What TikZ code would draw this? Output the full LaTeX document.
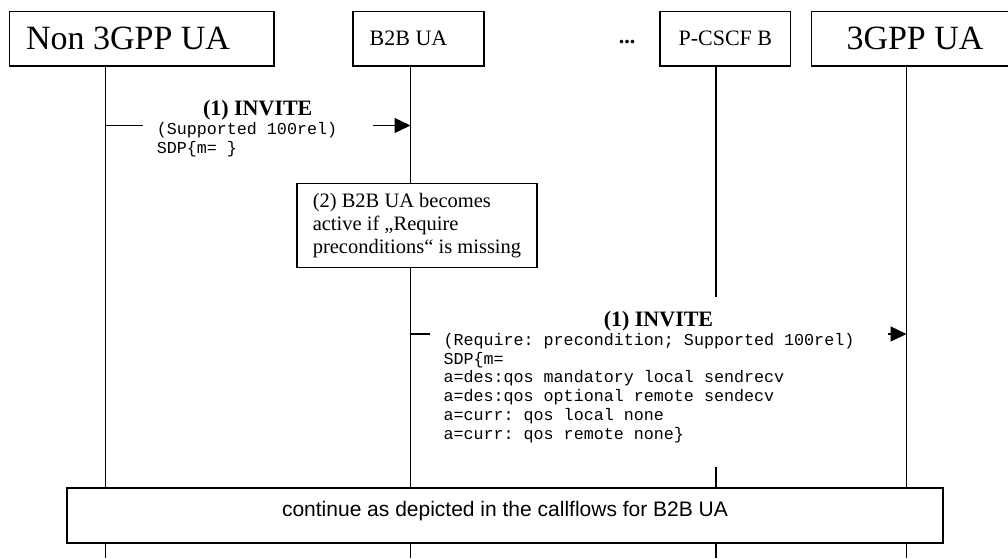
\documentclass[tikz,border=0pt]{standalone}
\usepackage{fontspec}
\setmainfont{Liberation Serif}
\setsansfont{Liberation Sans}
\setmonofont{Liberation Mono}
\usetikzlibrary{arrows.meta}

\begin{document}
\begin{tikzpicture}[x=1pt,y=-1pt,
  hdr/.style={draw,line width=1.5pt,minimum height=54.5pt,inner xsep=16.5pt,inner ysep=0pt},
  life/.style={line width=1.3pt},
  msg/.style={line width=1.3pt,-{Triangle[length=16pt,width=15pt]}},
  lbl/.style={fill=white,inner xsep=14pt,inner ysep=3pt,align=flush left,anchor=north,
    font=\ttfamily\fontsize{16.7}{18.7}\selectfont},
  box/.style={draw,line width=1.5pt,fill=white}]
\useasboundingbox (0,0) rectangle (1008,558);

% entities
\node[hdr,text width=231.5pt,align=flush left,font=\fontsize{34}{38}\selectfont] (non3) at (141.75,38.5) {Non 3GPP UA};
\node[hdr,text width=98pt,align=flush left,font=\fontsize{22}{24}\selectfont] (b2b) at (418.65,38.5) {B2B UA};
\node[font=\bfseries\fontsize{22}{24}\selectfont] (dots) at (627,42) {...};
\node[hdr,minimum width=130.7pt,font=\fontsize{22}{24}\selectfont] (pcscf) at (725.35,38.5) {P-CSCF B};
\node[hdr,minimum width=206.6pt,font=\fontsize{34}{38}\selectfont] (ue) at (915,38.5) {3GPP UA};

% lifelines
\coordinate (l1) at (105.5,65.5);
\coordinate (l2) at (410.5,65.5);
\coordinate (l3) at (716,65.5);
\coordinate (l4) at (906.5,65.5);
\coordinate (bot) at (0,558);
\foreach \l in {l1,l2,l3,l4}
  \draw[life] (\l) -- (\l |- bot);

% messages
\coordinate (m1) at (0,125.5);
\coordinate (m2) at (0,334);
\draw[msg] (l1 |- m1) -- (l2 |- m1);
\draw[msg] (l2 |- m2) -- (l4 |- m2);

\node[lbl,text width=202pt] (inv1) at (257.75,97.4) {%
  {\centering\rmfamily\bfseries\fontsize{22}{24}\selectfont (1) INVITE\par}
  (Supported 100rel)\\SDP\{m= \}};
\node[lbl,text width=430pt,inner ysep=14.4pt] (inv2) at (658.5,297) {%
  {\centering\rmfamily\bfseries\fontsize{22}{24}\selectfont (1) INVITE\par}
  (Require: precondition; Supported 100rel)\\SDP\{m=\\
  a=des:qos mandatory local sendrecv\\
  a=des:qos optional remote sendecv\\
  a=curr: qos local none\\
  a=curr: qos remote none\}\rule[-14pt]{0pt}{14pt}};

% B2B UA note
\node[box,anchor=north west,minimum width=234pt,minimum height=84pt,inner xsep=16pt,align=flush left,font=\fontsize{20.5}{23}\selectfont] (note) at (296,182.7)
  {(2) B2B UA becomes\\active if „Require\\preconditions“ is missing};

% continue box
\node[box,minimum width=876pt,minimum height=55pt,text height=9pt,text depth=8pt,font=\sffamily\fontsize{21}{24}\selectfont] (cont) at (505,515.5)
  {continue as depicted in the callflows for B2B UA};
\end{tikzpicture}
\end{document}
